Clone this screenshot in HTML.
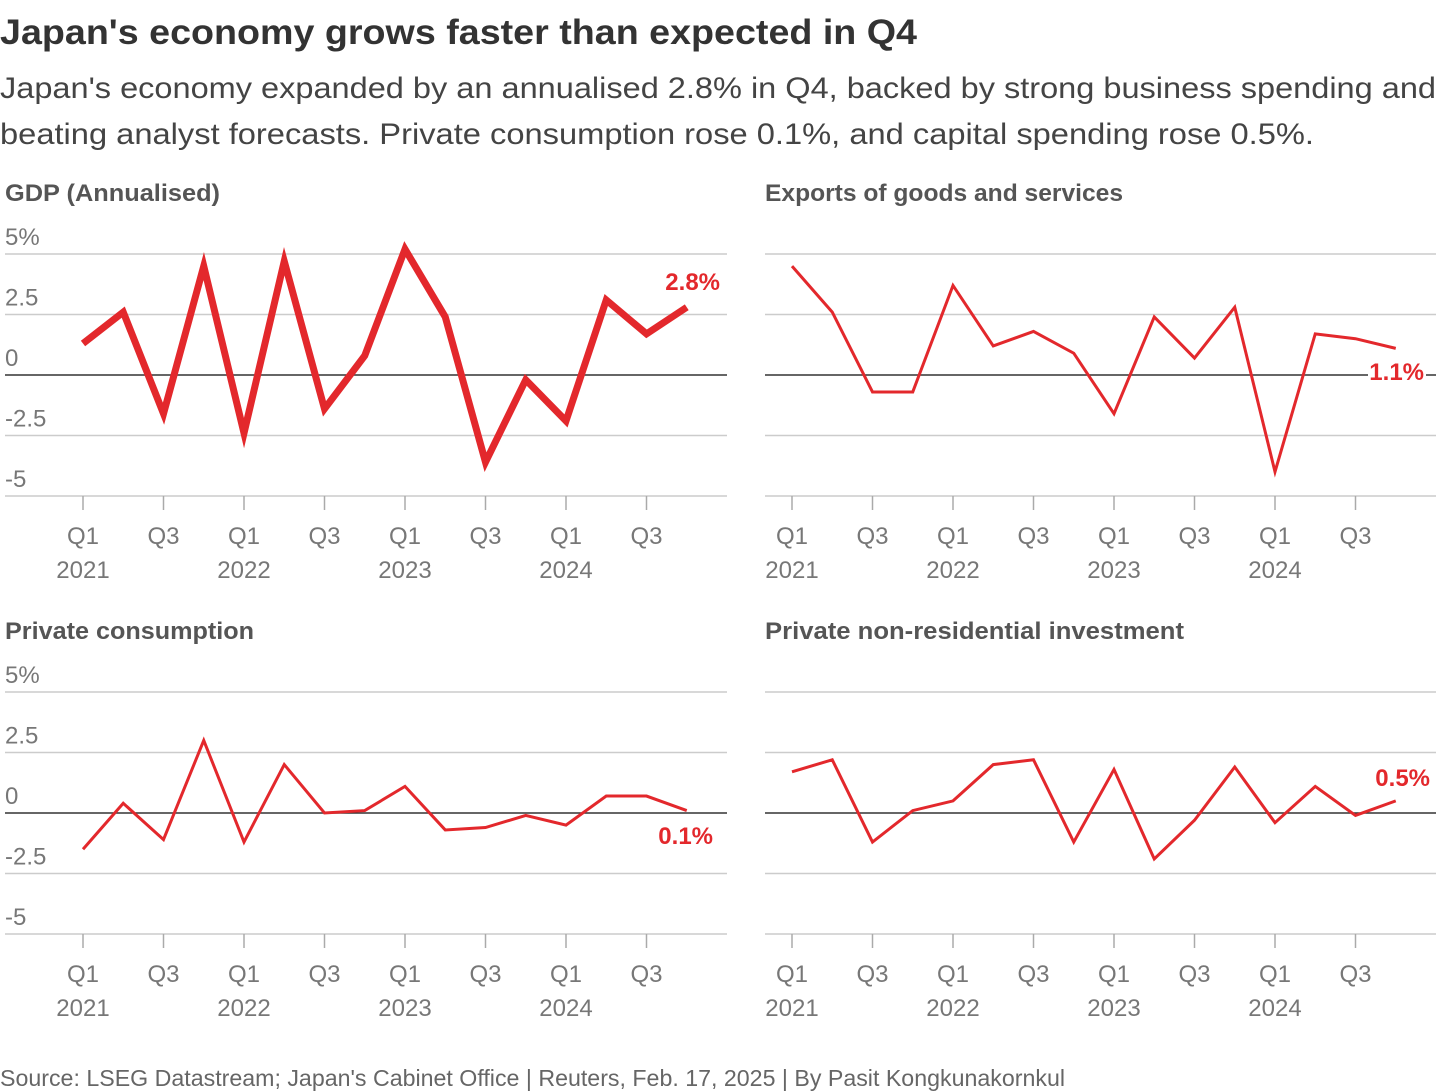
<!DOCTYPE html>
<html><head><meta charset="utf-8">
<style>
html,body{margin:0;padding:0;background:#fff;width:1440px;height:1092px;overflow:hidden}
svg text{font-family:"Liberation Sans",sans-serif}
</style></head>
<body>
<svg id="c" width="1440" height="1092" viewBox="0 0 1440 1092">
<text x="0" y="44" font-size="35" font-weight="bold" fill="#333" textLength="917" lengthAdjust="spacingAndGlyphs">Japan's economy grows faster than expected in Q4</text>
<text x="0" y="98" font-size="30" fill="#444" textLength="1436" lengthAdjust="spacingAndGlyphs">Japan's economy expanded by an annualised 2.8% in Q4, backed by strong business spending and</text>
<text x="0" y="144" font-size="30" fill="#444" textLength="1314" lengthAdjust="spacingAndGlyphs">beating analyst forecasts. Private consumption rose 0.1%, and capital spending rose 0.5%.</text>
<text x="0" y="1086" font-size="23" fill="#666" textLength="1065" lengthAdjust="spacingAndGlyphs">Source: LSEG Datastream; Japan's Cabinet Office | Reuters, Feb. 17, 2025 | By Pasit Kongkunakornkul</text>
</svg>
<script>
const quarters=["Q1 2021","Q2 2021","Q3 2021","Q4 2021","Q1 2022","Q2 2022","Q3 2022","Q4 2022","Q1 2023","Q2 2023","Q3 2023","Q4 2023","Q1 2024","Q2 2024","Q3 2024","Q4 2024"];
const yTicks=[5,2.5,0,-2.5,-5];
const yTickLabels=["5%","2.5","0","-2.5","-5"];
const gdp=[1.3,2.6,-1.6,4.5,-2.4,4.7,-1.4,0.8,5.2,2.4,-3.6,-0.2,-1.9,3.1,1.7,2.8];
const exportsData=[4.5,2.6,-0.7,-0.7,3.7,1.2,1.8,0.9,-1.6,2.4,0.7,2.8,-4.0,1.7,1.5,1.1];
const consumption=[-1.5,0.4,-1.1,3.0,-1.2,2.0,0.0,0.1,1.1,-0.7,-0.6,-0.1,-0.5,0.7,0.7,0.1];
const investment=[1.7,2.2,-1.2,0.1,0.5,2.0,2.2,-1.2,1.8,-1.9,-0.3,1.9,-0.4,1.1,-0.1,0.5];

const svg=document.getElementById('c');
const NS='http://www.w3.org/2000/svg';
const RED='#e3282c';
function el(tag,attrs,parent){const e=document.createElementNS(NS,tag);for(const k in attrs)e.setAttribute(k,attrs[k]);(parent||svg).appendChild(e);return e;}

const panels=[
 {title:"GDP (Annualised)",tw:215,data:gdp,gx0:5,gx1:727,x0:83,zero:375,lw:7,labels:true,last:"2.8%",lx:720,ly:290,anchor:"end",name:"gdp"},
 {title:"Exports of goods and services",tw:358,data:exportsData,gx0:765,gx1:1436,x0:792,zero:375,lw:3,labels:false,last:"1.1%",lx:1424,ly:380,anchor:"end",name:"exports"},
 {title:"Private consumption",tw:249,data:consumption,gx0:5,gx1:727,x0:83,zero:813,lw:3,labels:true,last:"0.1%",lx:713,ly:844,anchor:"end",name:"consumption"},
 {title:"Private non-residential investment",tw:419,data:investment,gx0:765,gx1:1436,x0:792,zero:813,lw:3,labels:false,last:"0.5%",lx:1430,ly:786,anchor:"end",name:"investment"}
];
const step=40.25, unit=24.2;
panels.forEach(p=>{
 const g=el('g',{});
 
 
 const xs=i=>p.x0+i*step, ys=v=>p.zero-v*unit;
 const t=el('text',{x:p.gx0,y:p.zero-174,'font-size':24,'font-weight':'bold',fill:'#555',textLength:p.tw,lengthAdjust:'spacingAndGlyphs'},g);
 t.textContent=p.title;
 
 
 yTicks.forEach((v,i)=>{
  const y=ys(v);
  const ln=el('line',{x1:p.gx0,x2:p.gx1,y1:y,y2:y,stroke:v===0?'#333':'#ccc','stroke-width':1.5},g);
  
  
  if(p.labels){
   const tl=el('text',{x:5,y:y-9,'font-size':24,fill:'#777'},g);
   tl.textContent=yTickLabels[i];
   
   
  }
 });
 const base=ys(-5);
 quarters.forEach((q,i)=>{
  if(i%2!==0)return;
  const x=xs(i);
  const tk=el('line',{x1:x,x2:x,y1:base,y2:base+14,stroke:'#aaa','stroke-width':1.5},g);
  
  
  const parts=q.split(' ');
  const tl=el('text',{x:x,y:base+48,'font-size':24,fill:'#777','text-anchor':'middle'},g);
  tl.textContent=parts[0];
  
  
  if(parts[0]==="Q1"){
   const yl=el('text',{x:x,y:base+82,'font-size':24,fill:'#777','text-anchor':'middle'},g);
   yl.textContent=parts[1];
   
   
  }
 });
 const pts=p.data.map((v,i)=>xs(i)+','+ys(v)).join(' ');
 const pl=el('polyline',{points:pts,fill:'none',stroke:RED,'stroke-width':p.lw,'stroke-linejoin':'miter','stroke-miterlimit':10},g);
 
 
 if(p.name==='exports'){
  const bg=el('rect',{x:p.lx-56,y:p.ly-22,width:58,height:28,fill:'#fff'},g);
  
  
 }
 const lb=el('text',{x:p.lx,y:p.ly,'font-size':24,'font-weight':'bold',fill:RED,'text-anchor':p.anchor},g);
 lb.textContent=p.last;
 
 
});
</script>
</body></html>
